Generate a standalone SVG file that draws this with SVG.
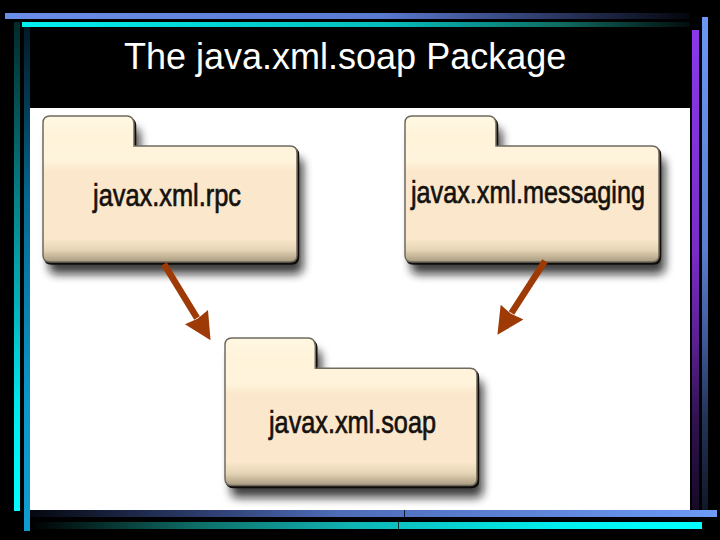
<svg xmlns="http://www.w3.org/2000/svg" xmlns:xlink="http://www.w3.org/1999/xlink" width="720" height="540" viewBox="0 0 720 540">
  <style>
    .title { font-family: "Liberation Sans", Arial, sans-serif; font-size: 36px; fill: #ffffff; }
    .label { font-family: "Liberation Sans", Arial, sans-serif; font-size: 32px; fill: #14110e; stroke: #14110e; stroke-width: 0.7px; }
    .conn { stroke: #9e3a06; stroke-width: 6.5; fill: none; marker-end: url(#head); }
  </style>
  <defs>
    <linearGradient id="gTopBlue" x1="0" x2="1" y1="0" y2="0"><stop offset="0" stop-color="#6a8ee8"/><stop offset="0.55" stop-color="#5a7ad0"/><stop offset="0.81" stop-color="#2a3560"/><stop offset="1" stop-color="#04060c"/></linearGradient>
    <linearGradient id="gTopCyan" x1="0" x2="1" y1="0" y2="0"><stop offset="0" stop-color="#00f0f0"/><stop offset="0.55" stop-color="#04bcbc"/><stop offset="0.81" stop-color="#0f6a60"/><stop offset="1" stop-color="#020c0c"/></linearGradient>
    <linearGradient id="gBotBlue" x1="0" x2="1" y1="0" y2="0"><stop offset="0" stop-color="#050810"/><stop offset="0.25" stop-color="#2c3c6c"/><stop offset="0.45" stop-color="#4e6cb8"/><stop offset="1" stop-color="#6d9af6"/></linearGradient>
    <linearGradient id="gBotCyan" x1="0" x2="1" y1="0" y2="0"><stop offset="0" stop-color="#000"/><stop offset="0.25" stop-color="#0e6e68"/><stop offset="0.48" stop-color="#10b4b4"/><stop offset="0.8" stop-color="#00f0f0"/><stop offset="1" stop-color="#00ffff"/></linearGradient>
    <linearGradient id="gLeftTeal" x1="0" x2="0" y1="0" y2="1"><stop offset="0" stop-color="#022a2c"/><stop offset="0.16" stop-color="#044e50"/><stop offset="0.36" stop-color="#068088"/><stop offset="0.57" stop-color="#05b0b8"/><stop offset="0.78" stop-color="#00e8f0"/><stop offset="1" stop-color="#00ffff"/></linearGradient>
    <linearGradient id="gLeftBlue" x1="0" x2="0" y1="0" y2="1"><stop offset="0" stop-color="#031a28"/><stop offset="0.15" stop-color="#033a54"/><stop offset="0.35" stop-color="#056a94"/><stop offset="0.75" stop-color="#0c98c8"/><stop offset="1" stop-color="#109cd0"/></linearGradient>
    <linearGradient id="gRightPurple" x1="0" x2="0" y1="0" y2="1"><stop offset="0" stop-color="#8a38ea"/><stop offset="0.46" stop-color="#7a2cc8"/><stop offset="0.65" stop-color="#5a2090"/><stop offset="0.81" stop-color="#301250"/><stop offset="1" stop-color="#160a26"/></linearGradient>
    <linearGradient id="gRightBlue" x1="0" x2="0" y1="0" y2="1"><stop offset="0" stop-color="#6a98f4"/><stop offset="0.46" stop-color="#5a80d0"/><stop offset="0.65" stop-color="#3f5a98"/><stop offset="0.81" stop-color="#233458"/><stop offset="1" stop-color="#101828"/></linearGradient>
    <linearGradient id="gFolder" x1="0" x2="0" y1="0" y2="1">
      <stop offset="0" stop-color="#fff8e2"/><stop offset="0.14" stop-color="#fff3da"/><stop offset="0.3" stop-color="#fff5dc"/><stop offset="0.38" stop-color="#fbe8cc"/>
      <stop offset="0.84" stop-color="#fbe8cc"/><stop offset="0.92" stop-color="#e4d3b4"/><stop offset="1" stop-color="#a89a80"/>
    </linearGradient>
    <filter id="blur" x="-15%" y="-15%" width="130%" height="135%"><feGaussianBlur stdDeviation="5"/></filter>
    <path id="folderShape" d="M7 0H84Q90 0 91 7V30H247Q254 30 254 37V139Q254 146 247 146H7Q0 146 0 139V7Q0 0 7 0Z"/>
    <g id="folder">
      <use xlink:href="#folderShape" href="#folderShape" transform="translate(6 12)" fill="#111" opacity="0.8" filter="url(#blur)"/>
      <use xlink:href="#folderShape" href="#folderShape" transform="translate(1.5 2)" fill="#100c08" stroke="#100c08" stroke-width="1.5"/>
      <use xlink:href="#folderShape" href="#folderShape" fill="url(#gFolder)" stroke="#6e6a60" stroke-width="1.5"/>
    </g>
    <marker id="head" markerUnits="userSpaceOnUse" markerWidth="30" markerHeight="30" refX="1" refY="13.5" orient="auto">
      <path d="M0 0L27 13.5L0 27L2 13.5Z" fill="#9e3a06"/>
    </marker>
  </defs>

  <rect width="720" height="540" fill="#000000"/>
  <rect x="30" y="108" width="660" height="402" fill="#ffffff"/>

  <g id="frame">
    <rect x="5" y="13" width="685" height="6" fill="url(#gTopBlue)"/>
    <rect x="22" y="22" width="668" height="5" fill="url(#gTopCyan)"/>
    <rect x="14" y="22" width="6" height="489" fill="url(#gLeftTeal)"/>
    <rect x="24" y="27" width="6" height="504" fill="url(#gLeftBlue)"/>
    <rect x="692" y="30" width="7" height="480" fill="url(#gRightPurple)"/>
    <rect x="702" y="17" width="6" height="493" fill="url(#gRightBlue)"/>
    <rect x="30" y="510" width="687" height="7" fill="url(#gBotBlue)"/>
    <rect x="30" y="522" width="672" height="7" fill="url(#gBotCyan)"/>
    <rect x="404" y="510" width="1" height="7" fill="#101830"/>
    <rect x="398" y="522" width="1" height="7" fill="#0a3030"/>
  </g>

  <text id="title" class="title" x="124" y="69">The java.xml.soap Package</text>

  <g id="node-rpc">
    <use xlink:href="#folder" href="#folder" transform="translate(43 116)"/>
    <text class="label" x="93" y="206" textLength="148" lengthAdjust="spacingAndGlyphs">javax.xml.rpc</text>
  </g>
  <g id="node-messaging">
    <use xlink:href="#folder" href="#folder" transform="translate(405 116)"/>
    <text class="label" x="411" y="203" textLength="234" lengthAdjust="spacingAndGlyphs">javax.xml.messaging</text>
  </g>
  <g id="node-soap">
    <use xlink:href="#folder" href="#folder" transform="translate(225 338) scale(0.992 1.01)"/>
    <text class="label" x="269" y="433" textLength="167" lengthAdjust="spacingAndGlyphs">javax.xml.soap</text>
  </g>

  <g id="connectors">
    <line class="conn" x1="164" y1="264" x2="197" y2="318"/>
    <line class="conn" x1="545" y1="261" x2="511.5" y2="313"/>
  </g>
</svg>
